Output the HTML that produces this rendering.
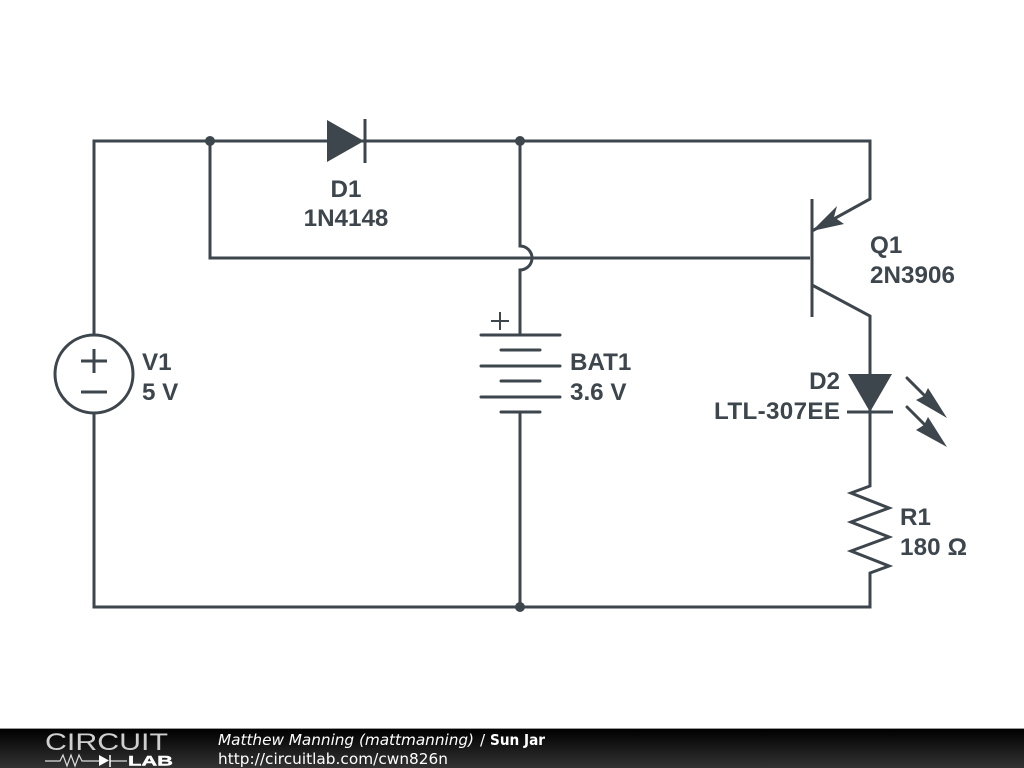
<!DOCTYPE html>
<html>
<head>
<meta charset="utf-8">
<title>Sun Jar</title>
<style>
html,body{margin:0;padding:0;background:#fff;width:1024px;height:768px;overflow:hidden}
svg{display:block}
.l{font:bold 24.2px "Liberation Sans",sans-serif;fill:#3d464c}
.f{font:15.3px "DejaVu Sans",sans-serif;fill:#fff}
</style>
</head>
<body>
<svg width="1024" height="768" viewBox="0 0 1024 768" xmlns="http://www.w3.org/2000/svg">
<defs>
<linearGradient id="g" x1="0" y1="0" x2="0" y2="1"><stop offset="0" stop-color="#000"/><stop offset="1" stop-color="#333"/></linearGradient>
</defs>
<rect width="1024" height="768" fill="#fff"/>
<g fill="none" stroke="#3d464c" stroke-width="3" stroke-linecap="butt" stroke-linejoin="miter">
<path d="M94 335V141H870V199L812 231"/>
<path d="M94 413V607H870V573L889 566L851 551L889 537L851 522L889 508L851 493L870 486V412"/>
<path d="M812 285L870 316V412"/>
<circle cx="94" cy="374" r="39"/>
<path d="M81 361H107M94 349V373M81 392H107"/>
<path d="M210 141V258H810"/>
<path d="M520 141V246A12 12 0 0 1 520 270V335M520 412V607"/>
<path d="M365 119V163"/>
<path d="M812 199V317"/>
<path d="M847 412H893"/>
<g stroke-linecap="round">
<path d="M481 335H560M481 366H560M481 397H560M501 350H540M501 381H540M501 412H540"/>
<path d="M907 378L926 397M907 407L926 426"/>
</g>
<path d="M491 321H509M500 312V330" stroke-width="2"/>
</g>
<g fill="#3d464c">
<circle cx="210" cy="141" r="5"/>
<circle cx="520" cy="141" r="5"/>
<circle cx="520" cy="607" r="5"/>
<path d="M327 120L364 141L327 162Z"/>
<path d="M848 374H892L870 412Z"/>
<path d="M812 231L837 206L834 217L844 224Z"/>
<path d="M947 418L928 388L924 396L916 400Z"/>
<path d="M947 447L928 417L924 425L916 430Z"/>
</g>
<text class="l" x="346" y="197" text-anchor="middle">D1</text>
<text class="l" x="346" y="226" text-anchor="middle">1N4148</text>
<text class="l" x="142" y="370">V1</text>
<text class="l" x="142" y="400">5 V</text>
<text class="l" x="570" y="370">BAT1</text>
<text class="l" x="570" y="400">3.6 V</text>
<text class="l" x="870" y="253">Q1</text>
<text class="l" x="870" y="283" textLength="85">2N3906</text>
<text class="l" x="840" y="389" text-anchor="end">D2</text>
<text class="l" x="714" y="419" textLength="126">LTL-307EE</text>
<text class="l" x="900" y="525">R1</text>
<text class="l" x="900" y="555" textLength="67">180 Ω</text>

<rect x="0" y="729" width="1024" height="39" fill="url(#g)"/>
<rect x="0" y="728" width="1024" height="1" fill="#999"/>
<text x="45" y="750" textLength="123" lengthAdjust="spacingAndGlyphs" style="font:24.5px 'Liberation Sans',sans-serif" fill="#cfcfcf">CIRCUIT</text>
<text x="128" y="765.5" textLength="45" lengthAdjust="spacingAndGlyphs" style="font:bold 14px 'Liberation Sans',sans-serif" fill="#fff" stroke="#fff" stroke-width=".4">LAB</text>
<path d="M45 761H60L63 755L67 766L71 755L75 766L79 755L82 761H99M110 761H127" fill="none" stroke="#ddd" stroke-width="1.2"/>
<path d="M99 755L109 760.5L99 766Z" fill="#fff"/>
<path d="M110 755V767" stroke="#fff" stroke-width="1.5"/>
<text class="f" x="218" y="745" font-style="italic" textLength="256" style="font-style:italic">Matthew Manning (mattmanning)</text>
<text class="f" x="480" y="745">/</text>
<text class="f" x="490" y="745" textLength="55" lengthAdjust="spacingAndGlyphs" style="font-weight:bold">Sun Jar</text>
<text class="f" x="218" y="764" textLength="230">http://circuitlab.com/cwn826n</text>
</svg>
</body>
</html>
